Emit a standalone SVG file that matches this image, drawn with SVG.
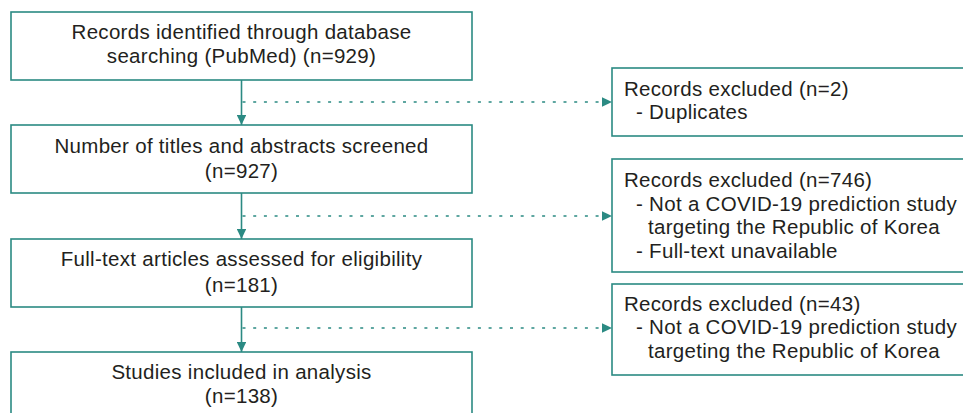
<svg xmlns="http://www.w3.org/2000/svg" width="963" height="413" viewBox="0 0 963 413">
<style>
.box{fill:#fff;stroke:#2b8a83;stroke-width:1.6}
.t{font-family:"Liberation Sans",Arial,sans-serif;font-size:20.5px;letter-spacing:0.3px;fill:#231f20}
.c{text-anchor:middle}
.solid{stroke:#2b8a83;stroke-width:1.6;fill:none}
.dot{stroke:#2b8a83;stroke-width:1.5;fill:none;stroke-dasharray:3 7.7}
</style>
<defs>
<marker id="ah" viewBox="0 0 10 10" refX="10" refY="5" markerWidth="10" markerHeight="9.5" markerUnits="userSpaceOnUse" orient="auto" preserveAspectRatio="none">
<path d="M0,0 L10,5 L0,10 z" fill="#2b8a83"/>
</marker>
</defs>
<g id="connectors">
<line class="solid" x1="241.5" y1="80" x2="241.5" y2="125" marker-end="url(#ah)"/>
<line class="solid" x1="241.5" y1="193" x2="241.5" y2="239" marker-end="url(#ah)"/>
<line class="solid" x1="241.5" y1="307" x2="241.5" y2="352" marker-end="url(#ah)"/>
<line class="dot" x1="242.5" y1="102" x2="612" y2="102" marker-end="url(#ah)"/>
<line class="dot" x1="242.5" y1="216" x2="612" y2="216" marker-end="url(#ah)"/>
<line class="dot" x1="242.5" y1="328" x2="612" y2="328" marker-end="url(#ah)"/>
</g>
<g id="n1">
<rect class="box" x="11" y="12" width="461" height="68"/>
<text class="t c" x="241.5" y="39">Records identified through database</text>
<text class="t c" x="241.5" y="63">searching (PubMed) (n=929)</text>
</g>
<g id="n2">
<rect class="box" x="11" y="125" width="461" height="68"/>
<text class="t c" x="241.5" y="153">Number of titles and abstracts screened</text>
<text class="t c" x="241.5" y="178">(n=927)</text>
</g>
<g id="n3">
<rect class="box" x="11" y="239" width="461" height="68"/>
<text class="t c" x="241.5" y="266">Full-text articles assessed for eligibility</text>
<text class="t c" x="241.5" y="291.5">(n=181)</text>
</g>
<g id="n4">
<rect class="box" x="11" y="352" width="461" height="80"/>
<text class="t c" x="241.5" y="379">Studies included in analysis</text>
<text class="t c" x="241.5" y="403">(n=138)</text>
</g>
<g id="e1">
<rect class="box" x="612" y="68" width="370" height="68"/>
<text class="t" x="624" y="96">Records excluded (n=2)</text>
<text class="t" x="636" y="119">- Duplicates</text>
</g>
<g id="e2">
<rect class="box" x="612" y="159" width="370" height="113"/>
<text class="t" x="624" y="187">Records excluded (n=746)</text>
<text class="t" x="636" y="211">- Not a COVID-19 prediction study</text>
<text class="t" x="648" y="234">targeting the Republic of Korea</text>
<text class="t" x="636" y="258">- Full-text unavailable</text>
</g>
<g id="e3">
<rect class="box" x="612" y="284" width="370" height="91"/>
<text class="t" x="624" y="311">Records excluded (n=43)</text>
<text class="t" x="636" y="334">- Not a COVID-19 prediction study</text>
<text class="t" x="648" y="358">targeting the Republic of Korea</text>
</g>
</svg>
